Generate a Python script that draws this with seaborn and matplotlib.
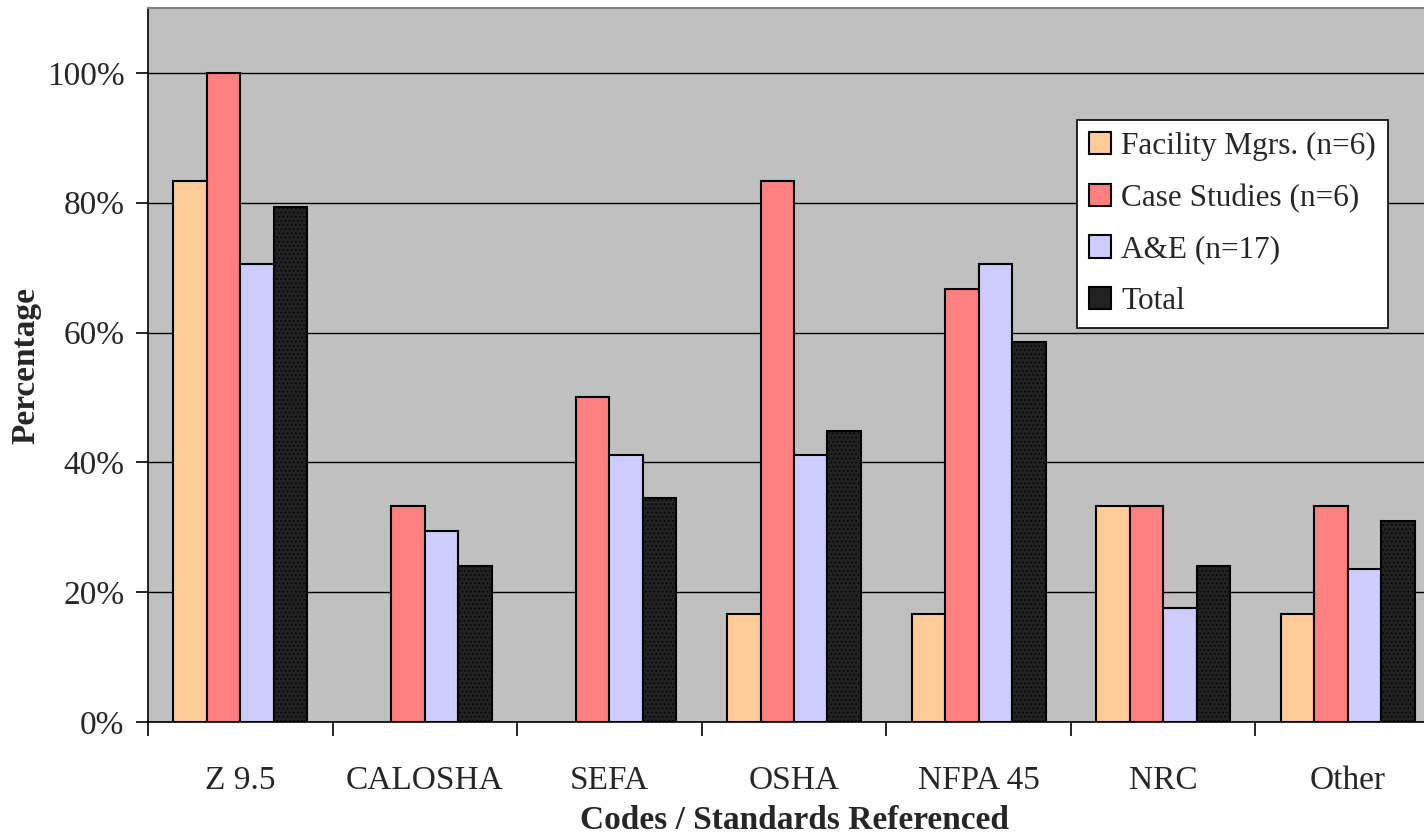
import matplotlib
matplotlib.use("Agg")
import matplotlib.pyplot as plt
import seaborn as sns
import pandas as pd
from matplotlib.ticker import FixedLocator

# Share of respondents referencing each code / standard (percent)
categories = ["Z 9.5", "CALOSHA", "SEFA", "OSHA", "NFPA 45", "NRC", "Other"]
facility_mgrs = [83.3, 0.0, 0.0, 16.7, 16.7, 33.3, 16.7]
case_studies = [100.0, 33.3, 50.0, 83.3, 66.7, 33.3, 33.3]
a_and_e = [70.6, 29.4, 41.2, 41.2, 70.6, 17.6, 23.5]
total = [79.3, 24.1, 34.5, 44.8, 58.6, 24.1, 31.0]
series_names = ["Facility Mgrs. (n=6)", "Case Studies (n=6)", "A&E (n=17)", "Total"]
y_ticks = [0, 20, 40, 60, 80, 100]

series_values = [facility_mgrs, case_studies, a_and_e, total]
df = pd.DataFrame(
    [(c, s, v) for s, vals in zip(series_names, series_values) for c, v in zip(categories, vals)],
    columns=["Code", "Group", "Pct"],
)

colors = ["#FFCC99", "#FF8080", "#CCCCFF", "#222222"]

sns.set_theme(style="white")
plt.rcParams["font.family"] = ["Liberation Serif", "DejaVu Serif"]
plt.rcParams["hatch.color"] = "#3a3a3a"
plt.rcParams["hatch.linewidth"] = 0.6

fig = plt.figure(figsize=(14.24, 8.36), dpi=100)
ax = fig.add_axes([148 / 1424, 1 - 722 / 836, (1440 - 148) / 1424, (722 - 8) / 836])
ax.set_facecolor("#C0C0C0")

sns.barplot(
    data=df, x="Code", y="Pct", hue="Group", order=categories, hue_order=series_names,
    palette=colors, width=0.726, edgecolor="black", linewidth=1.5, saturation=1,
    errorbar=None, ax=ax, zorder=3,
)

# fine dotted texture on the Total bars; empty bars drawn without outline
for patch in ax.containers[3]:
    patch.set_hatch("....")
    patch.set_edgecolor("black")
for cont in ax.containers:
    for patch in cont:
        if patch.get_height() == 0:
            patch.set_linewidth(0)

ax.set_ylim(0, 110)
ax.set_xlim(-0.5, len(categories) - 0.5)
ax.set_yticks(y_ticks)
ax.set_yticklabels([f"{t}%" for t in y_ticks], fontsize=24)
ax.yaxis.grid(True, color="black", linewidth=1.0, zorder=0)
ax.set_axisbelow(True)

ax.set_xticks(range(len(categories)))
ax.set_xticklabels(categories, fontsize=24)
ax.tick_params(axis="x", which="major", length=0, pad=31)
ax.xaxis.set_minor_locator(FixedLocator([i - 0.5 for i in range(len(categories) + 1)]))
ax.tick_params(axis="x", which="minor", length=10, width=1.2, color="black", direction="out", bottom=True)
ax.tick_params(axis="y", length=9, width=1.2, color="black", direction="out", left=True, pad=8)

for side in ["left", "bottom"]:
    ax.spines[side].set_color("black")
    ax.spines[side].set_linewidth(1.2)
ax.spines["top"].set_color("#808080")
ax.spines["top"].set_linewidth(1.5)
ax.spines["right"].set_visible(False)

ax.set_xlabel("Codes / Standards Referenced", fontsize=24, fontweight="bold", labelpad=7)
ax.set_ylabel("Percentage", fontsize=24, fontweight="bold", labelpad=4)

leg = ax.legend(
    loc="upper left", bbox_to_anchor=((1077 - 148) / 1292, (722 - 120) / 714),
    fontsize=22.5, frameon=True, fancybox=False, edgecolor="black", facecolor="white",
    framealpha=1, handlelength=0.72, handleheight=0.72, handletextpad=0.32,
    labelspacing=0.72, borderpad=0.38, borderaxespad=0,
)
leg.get_frame().set_linewidth(1.2)
leg.set_zorder(5)

fig.savefig("out.png", dpi=100, facecolor="white")
